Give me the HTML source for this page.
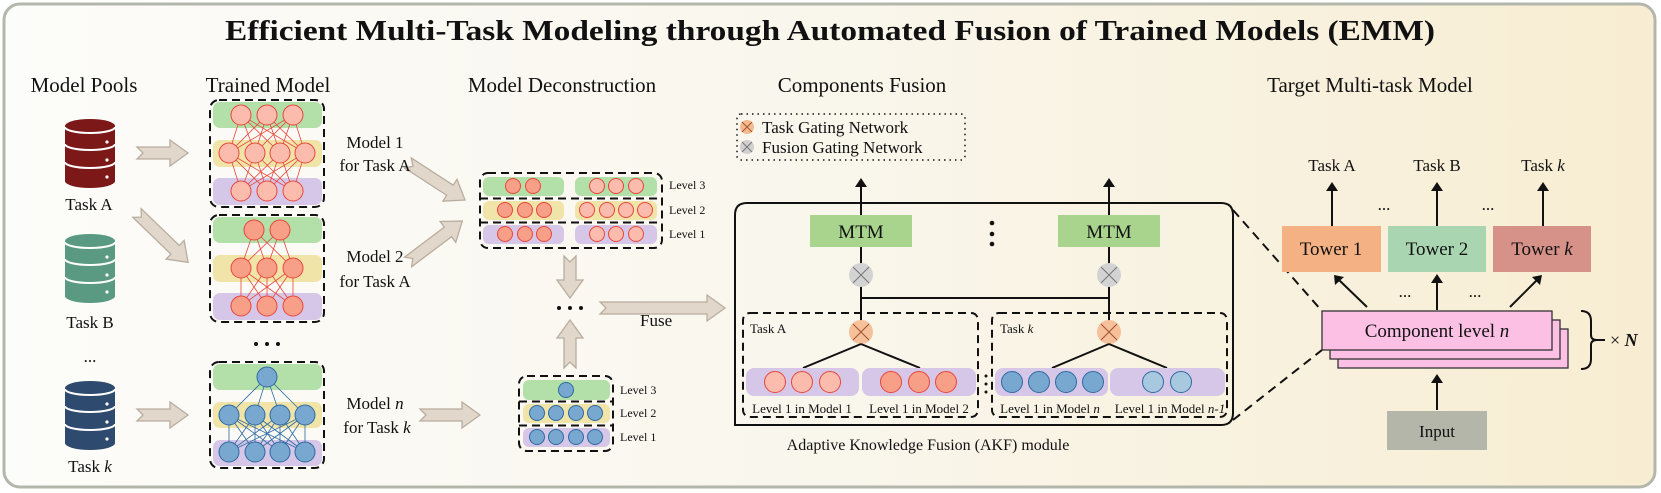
<!DOCTYPE html>
<html><head><meta charset="utf-8"><style>
html,body{margin:0;padding:0;background:#fff}
svg{display:block}
text{font-family:"Liberation Serif",serif;fill:#111}
</style></head><body>
<svg width="1661" height="493" viewBox="0 0 1661 493" xmlns="http://www.w3.org/2000/svg">
<defs>
<linearGradient id="bg" x1="0" x2="1" y1="0" y2="0">
<stop offset="0" stop-color="#fcfcfa"/><stop offset="0.5" stop-color="#f9f6ec"/><stop offset="1" stop-color="#f8edd2"/>
</linearGradient>
<path id="arr" d="M0,-7 L-0,-7 Z"/>
</defs>
<rect x="4" y="4" width="1651" height="483" rx="16" fill="url(#bg)" stroke="#b3b7ab" stroke-width="3"/>
<text x="225" y="40" font-size="28" font-weight="bold" textLength="1210" lengthAdjust="spacingAndGlyphs">Efficient Multi-Task Modeling through Automated Fusion of Trained Models (EMM)</text>

<g font-size="21" text-anchor="middle">
<text x="84" y="92">Model Pools</text>
<text x="268" y="92">Trained Model</text>
<text x="562" y="92">Model Deconstruction</text>
<text x="862" y="92">Components Fusion</text>
<text x="1370" y="92">Target Multi-task Model</text>
</g>

<!-- databases -->
<g id="dbs">
<g fill="#7c1818">
<path d="M65,126 a25,7 0 0 1 50,0 v55 a25,7 0 0 1 -50,0z"/>
</g>
<g fill="#5a9a82"><path d="M65,241 a25,7 0 0 1 50,0 v55 a25,7 0 0 1 -50,0z"/></g>
<g fill="#2e4a6e"><path d="M65,388 a25,7 0 0 1 50,0 v55 a25,7 0 0 1 -50,0z"/></g>
<g fill="none" stroke="#fff" stroke-width="2">
<path d="M65,127 a25,6 0 0 0 50,0 M65,144 a25,6 0 0 0 50,0 M65,162 a25,6 0 0 0 50,0"/>
<path d="M65,242 a25,6 0 0 0 50,0 M65,259 a25,6 0 0 0 50,0 M65,277 a25,6 0 0 0 50,0"/>
<path d="M65,389 a25,6 0 0 0 50,0 M65,406 a25,6 0 0 0 50,0 M65,424 a25,6 0 0 0 50,0"/>
</g>
<g fill="#fff">
<circle cx="107" cy="142" r="1.6"/><circle cx="107" cy="160" r="1.6"/><circle cx="107" cy="177" r="1.6"/>
<circle cx="107" cy="257" r="1.6"/><circle cx="107" cy="275" r="1.6"/><circle cx="107" cy="292" r="1.6"/>
<circle cx="107" cy="404" r="1.6"/><circle cx="107" cy="422" r="1.6"/><circle cx="107" cy="439" r="1.6"/>
</g>
</g>
<g font-size="17" text-anchor="middle">
<text x="89" y="210">Task A</text>
<text x="90" y="328">Task B</text>
<text x="90" y="362">...</text>
<text x="90" y="472">Task <tspan font-style="italic">k</tspan></text>
</g>

<!-- beige arrows -->
<g fill="#e2d7cb" stroke="#b9ad9f" stroke-width="1.3">
<path transform="translate(137,153)" d="M0,-6 L33,-6 L33,-13 L51,0 L33,13 L33,6 L0,6 L6,0Z"/>
<path transform="translate(137,213) rotate(44)" d="M0,-6 L53,-6 L53,-13 L71,0 L53,13 L53,6 L0,6 L6,0Z"/>
<path transform="translate(137,415)" d="M0,-6 L33,-6 L33,-13 L51,0 L33,13 L33,6 L0,6 L6,0Z"/>
<path transform="translate(408,163) rotate(33)" d="M0,-6 L50,-6 L50,-13 L68,0 L50,13 L50,6 L0,6 L6,0Z"/>
<path transform="translate(408,262) rotate(-37)" d="M0,-6 L50,-6 L50,-13 L68,0 L50,13 L50,6 L0,6 L6,0Z"/>
<path transform="translate(420,415)" d="M0,-6 L42,-6 L42,-13 L60,0 L42,13 L42,6 L0,6 L6,0Z"/>
<path transform="translate(570,256) rotate(90)" d="M0,-6 L24,-6 L24,-13 L42,0 L24,13 L24,6 L0,6 L6,0Z"/>
<path transform="translate(570,368) rotate(-90)" d="M0,-6 L30,-6 L30,-13 L48,0 L30,13 L30,6 L0,6 L6,0Z"/>
<path transform="translate(600,308)" d="M0,-6 L107,-6 L107,-13 L125,0 L107,13 L107,6 L0,6 L6,0Z" transform-origin="0 0"/>
</g>
<g fill="#111"><circle cx="559" cy="308" r="2"/><circle cx="570" cy="308" r="2"/><circle cx="581" cy="308" r="2"/></g>
<text x="640" y="326" font-size="17">Fuse</text>

<!-- trained models -->
<g>
<!-- bands -->
<g>
<rect x="213" y="102" width="109" height="26" rx="7" fill="#b3e0a8"/>
<rect x="213" y="140" width="109" height="27" rx="7" fill="#f0e4a8"/>
<rect x="213" y="178" width="109" height="27" rx="7" fill="#d6c6e8"/>
<rect x="213" y="217" width="109" height="26" rx="7" fill="#b3e0a8"/>
<rect x="213" y="255" width="109" height="27" rx="7" fill="#f0e4a8"/>
<rect x="213" y="293" width="109" height="27" rx="7" fill="#d6c6e8"/>
<rect x="213" y="364" width="109" height="26" rx="7" fill="#b3e0a8"/>
<rect x="213" y="402" width="109" height="26" rx="7" fill="#f0e4a8"/>
<rect x="213" y="440" width="109" height="26" rx="7" fill="#d6c6e8"/>
</g>
<g stroke="#e8463a" stroke-width="0.8">
<path d="M241,115L229,153M241,115L255,153M241,115L280,153M241,115L305,153M267,115L229,153M267,115L255,153M267,115L280,153M267,115L305,153M293,115L229,153M293,115L255,153M293,115L280,153M293,115L305,153"/>
<path d="M241,191L229,153M241,191L255,153M241,191L280,153M241,191L305,153M267,191L229,153M267,191L255,153M267,191L280,153M267,191L305,153M293,191L229,153M293,191L255,153M293,191L280,153M293,191L305,153"/>
<path d="M254,230L241,268M254,230L267,268M254,230L293,268M280,230L241,268M280,230L267,268M280,230L293,268"/>
<path d="M241,268L241,306M241,268L267,306M241,268L293,306M267,268L241,306M267,268L267,306M267,268L293,306M293,268L241,306M293,268L267,306M293,268L293,306"/>
</g>
<g stroke="#2e6aa0" stroke-width="0.8">
<path d="M267,377L229,415M267,377L255,415M267,377L280,415M267,377L305,415"/>
<path d="M229,415L229,452M229,415L255,452M229,415L280,452M229,415L305,452M255,415L229,452M255,415L255,452M255,415L280,452M255,415L305,452M280,415L229,452M280,415L255,452M280,415L280,452M280,415L305,452M305,415L229,452M305,415L255,452M305,415L280,452M305,415L305,452"/>
</g>
<g fill="#fbbcae" stroke="#e8463a" stroke-width="1">
<circle cx="241" cy="115" r="10"/><circle cx="267" cy="115" r="10"/><circle cx="293" cy="115" r="10"/>
<circle cx="229" cy="153" r="10"/><circle cx="255" cy="153" r="10"/><circle cx="280" cy="153" r="10"/><circle cx="305" cy="153" r="10"/>
<circle cx="241" cy="191" r="10"/><circle cx="267" cy="191" r="10"/><circle cx="293" cy="191" r="10"/>
</g>
<g fill="#f89f88" stroke="#e8463a" stroke-width="1">
<circle cx="254" cy="230" r="10"/><circle cx="280" cy="230" r="10"/>
<circle cx="241" cy="268" r="10"/><circle cx="267" cy="268" r="10"/><circle cx="293" cy="268" r="10"/>
<circle cx="241" cy="306" r="10"/><circle cx="267" cy="306" r="10"/><circle cx="293" cy="306" r="10"/>
</g>
<g fill="#78a8d0" stroke="#2e6aa0" stroke-width="1">
<circle cx="267" cy="377" r="10"/>
<circle cx="229" cy="415" r="10"/><circle cx="255" cy="415" r="10"/><circle cx="280" cy="415" r="10"/><circle cx="305" cy="415" r="10"/>
<circle cx="229" cy="452" r="10"/><circle cx="255" cy="452" r="10"/><circle cx="280" cy="452" r="10"/><circle cx="305" cy="452" r="10"/>
</g>
<g fill="none" stroke="#111" stroke-width="2" stroke-dasharray="8,5">
<rect x="210" y="100" width="114" height="107" rx="9"/>
<rect x="210" y="215" width="114" height="107" rx="9"/>
<rect x="210" y="362" width="114" height="106" rx="9"/>
</g>
<g fill="#111"><circle cx="256" cy="344" r="2"/><circle cx="267" cy="344" r="2"/><circle cx="278" cy="344" r="2"/></g>
</g>
<g font-size="17" text-anchor="middle">
<text x="375" y="148">Model 1</text><text x="375" y="171">for Task A</text>
<text x="375" y="262">Model 2</text><text x="375" y="287">for Task A</text>
<text x="375" y="409">Model <tspan font-style="italic">n</tspan></text><text x="377" y="433">for Task <tspan font-style="italic">k</tspan></text>
</g>

<!-- deconstruction top block -->
<g>
<rect x="483" y="177" width="81" height="19" rx="6" fill="#b3e0a8"/><rect x="575" y="177" width="82" height="19" rx="6" fill="#b3e0a8"/>
<rect x="483" y="201" width="81" height="19" rx="6" fill="#f0e4a8"/><rect x="575" y="201" width="82" height="19" rx="6" fill="#f0e4a8"/>
<rect x="483" y="225" width="81" height="19" rx="6" fill="#d6c6e8"/><rect x="575" y="225" width="82" height="19" rx="6" fill="#d6c6e8"/>
<g stroke="#e8463a" stroke-width="1">
<g fill="#f89f88"><circle cx="513" cy="186" r="7.5"/><circle cx="533" cy="186" r="7.5"/>
<circle cx="505" cy="210" r="7.5"/><circle cx="525" cy="210" r="7.5"/><circle cx="544" cy="210" r="7.5"/>
<circle cx="505" cy="234" r="7.5"/><circle cx="525" cy="234" r="7.5"/><circle cx="544" cy="234" r="7.5"/></g>
<g fill="#fbbcae"><circle cx="597" cy="186" r="7.5"/><circle cx="616" cy="186" r="7.5"/><circle cx="636" cy="186" r="7.5"/>
<circle cx="587" cy="210" r="7.5"/><circle cx="607" cy="210" r="7.5"/><circle cx="626" cy="210" r="7.5"/><circle cx="645" cy="210" r="7.5"/>
<circle cx="597" cy="234" r="7.5"/><circle cx="616" cy="234" r="7.5"/><circle cx="636" cy="234" r="7.5"/></g>
</g>
<g fill="none" stroke="#111" stroke-width="2" stroke-dasharray="8,5">
<rect x="480" y="173" width="182" height="75" rx="8"/>
<path d="M480,198.5H662M480,222.5H662"/>
</g>
<g font-size="12"><text x="669" y="189">Level 3</text><text x="669" y="214">Level 2</text><text x="669" y="238">Level 1</text></g>
</g>

<!-- deconstruction bottom block -->
<g>
<rect x="523" y="380" width="87" height="20" rx="6" fill="#b3e0a8"/>
<rect x="523" y="404" width="87" height="19" rx="6" fill="#f0e4a8"/>
<rect x="523" y="428" width="87" height="19" rx="6" fill="#d6c6e8"/>
<g fill="#78a8d0" stroke="#2e6aa0" stroke-width="1">
<circle cx="566" cy="390" r="7.5"/>
<circle cx="537" cy="413" r="7.5"/><circle cx="556" cy="413" r="7.5"/><circle cx="576" cy="413" r="7.5"/><circle cx="595" cy="413" r="7.5"/>
<circle cx="537" cy="437" r="7.5"/><circle cx="556" cy="437" r="7.5"/><circle cx="576" cy="437" r="7.5"/><circle cx="595" cy="437" r="7.5"/>
</g>
<g fill="none" stroke="#111" stroke-width="2" stroke-dasharray="8,5">
<rect x="519" y="376" width="94" height="75" rx="8"/>
<path d="M519,401.5H613M519,425.5H613"/>
</g>
<g font-size="12"><text x="620" y="394">Level 3</text><text x="620" y="417">Level 2</text><text x="620" y="441">Level 1</text></g>
</g>

<!-- legend -->
<rect x="737" y="114" width="228" height="46" rx="4" fill="none" stroke="#111" stroke-width="1.5" stroke-dasharray="1.5,4"/>
<circle cx="747" cy="127" r="7" fill="#f5b990"/><path d="M742,122L752,132M752,122L742,132" stroke="#a0522d" stroke-width="1"/>
<circle cx="747" cy="147" r="7" fill="#d0d0d0"/><path d="M742,142L752,152M752,142L742,152" stroke="#777" stroke-width="1"/>
<g font-size="17"><text x="762" y="133">Task Gating Network</text><text x="762" y="153">Fusion Gating Network</text></g>

<!-- AKF box -->
<path d="M735,425 V215 Q735,203 747,203 H1221 Q1233,203 1233,215 V413 Q1233,425 1221,425 Z" fill="none" stroke="#111" stroke-width="2"/>
<g stroke="#111" stroke-width="2" fill="none">
<path d="M861,185V332M1109,185V332M861,298H1109"/>
</g>
<path d="M861,178l-6,9h12z M1109,178l-6,9h12z" fill="#111"/>
<rect x="810" y="215" width="102" height="32" fill="#a8d48e"/>
<rect x="1058" y="215" width="102" height="32" fill="#a8d48e"/>
<g font-size="19" text-anchor="middle"><text x="861" y="238">MTM</text><text x="1109" y="238">MTM</text></g>
<g fill="#111"><circle cx="992" cy="223" r="2.3"/><circle cx="992" cy="234" r="2.3"/><circle cx="992" cy="244" r="2.3"/></g>
<g>
<circle cx="861" cy="275" r="12" fill="#d3d3d3"/><path d="M853,267L869,283M869,267L853,283" stroke="#777"/>
<circle cx="1109" cy="275" r="12" fill="#d3d3d3"/><path d="M1101,267L1117,283M1117,267L1101,283" stroke="#777"/>
<circle cx="861" cy="332" r="12" fill="#f5c09a"/><path d="M853,324L869,340M869,324L853,340" stroke="#a0522d"/>
<circle cx="1109" cy="332" r="12" fill="#f5c09a"/><path d="M1101,324L1117,340M1117,324L1101,340" stroke="#a0522d"/>
</g>
<g stroke="#111" stroke-width="2"><path d="M861,344L803,368M861,344L920,368M1109,344L1052,368M1109,344L1167,368"/></g>
<rect x="746" y="368" width="113" height="28" rx="8" fill="#d6c6e8"/>
<rect x="862" y="368" width="114" height="28" rx="8" fill="#d6c6e8"/>
<rect x="995" y="368" width="113" height="28" rx="8" fill="#d6c6e8"/>
<rect x="1110" y="368" width="115" height="28" rx="8" fill="#d6c6e8"/>
<g stroke-width="1">
<g fill="#fbbcae" stroke="#e8463a"><circle cx="775" cy="382" r="10.5"/><circle cx="802" cy="382" r="10.5"/><circle cx="830" cy="382" r="10.5"/></g>
<g fill="#f89f88" stroke="#e8463a"><circle cx="891" cy="382" r="10.5"/><circle cx="919" cy="382" r="10.5"/><circle cx="946" cy="382" r="10.5"/></g>
<g fill="#78a8d0" stroke="#2e6aa0"><circle cx="1012" cy="382" r="10.5"/><circle cx="1039" cy="382" r="10.5"/><circle cx="1066" cy="382" r="10.5"/><circle cx="1093" cy="382" r="10.5"/></g>
<g fill="#a8c8e0" stroke="#2e6aa0"><circle cx="1153" cy="382" r="10.5"/><circle cx="1181" cy="382" r="10.5"/></g>
</g>
<g fill="#111"><circle cx="986" cy="376" r="1.5"/><circle cx="986" cy="384" r="1.5"/><circle cx="986" cy="392" r="1.5"/></g>
<g fill="none" stroke="#111" stroke-width="2" stroke-dasharray="8,5">
<rect x="743" y="313" width="235" height="104" rx="7"/>
<rect x="992" y="313" width="235" height="104" rx="7"/>
</g>
<g font-size="13">
<text x="750" y="333">Task A</text><text x="1000" y="333">Task <tspan font-style="italic">k</tspan></text>
<text x="802" y="413" text-anchor="middle">Level 1 in Model 1</text>
<text x="919" y="413" text-anchor="middle">Level 1 in Model 2</text>
<text x="1050" y="413" text-anchor="middle">Level 1 in Model <tspan font-style="italic">n</tspan></text>
<text x="1170" y="413" text-anchor="middle">Level 1 in Model <tspan font-style="italic">n-1</tspan></text>
</g>
<text x="928" y="450" font-size="16" text-anchor="middle">Adaptive Knowledge Fusion (AKF) module</text>

<!-- zoom lines -->
<g stroke="#111" stroke-width="2" stroke-dasharray="9,6"><path d="M1233,210L1322,311M1233,420L1322,350"/></g>

<!-- target -->
<g font-size="17" text-anchor="middle">
<text x="1332" y="171">Task A</text><text x="1437" y="171">Task B</text><text x="1543" y="171">Task <tspan font-style="italic">k</tspan></text>
</g>
<g stroke="#111" stroke-width="2"><path d="M1332,226V190M1437,226V190M1543,226V190"/>
<path d="M1367,307L1339,280M1437,310V282M1510,307L1537,280M1437,410V382"/></g>
<g fill="#111"><path d="M1332,182l-6,9h12z M1437,182l-6,9h12z M1543,182l-6,9h12z M1437,274l-6,9h12z M1437,374l-6,9h12z"/>
<path d="M1334,275l1,10l9,-8z"/><path d="M1542,275l-10,2l8,8z"/></g>
<g font-size="17" text-anchor="middle"><text x="1384" y="210">...</text><text x="1488" y="210">...</text><text x="1405" y="297">...</text><text x="1475" y="297">...</text></g>
<rect x="1282" y="226" width="99" height="46" fill="#f4b183"/>
<rect x="1388" y="226" width="98" height="46" fill="#a9d5b0"/>
<rect x="1493" y="226" width="98" height="46" fill="#d69188"/>
<g font-size="19" text-anchor="middle"><text x="1331" y="255">Tower 1</text><text x="1437" y="255">Tower 2</text><text x="1542" y="255">Tower <tspan font-style="italic">k</tspan></text></g>
<g fill="#fcc0e4" stroke="#333" stroke-width="1.3">
<rect x="1338" y="329" width="230" height="39"/>
<rect x="1330" y="320" width="230" height="39"/>
<rect x="1322" y="311" width="230" height="39"/>
</g>
<text x="1437" y="337" font-size="19" text-anchor="middle">Component level <tspan font-style="italic">n</tspan></text>
<path d="M1581,311 q10,0 10,10 v14 q0,5 6,5 q-6,0 -6,5 v14 q0,10 -10,10 M1597,340h8" fill="none" stroke="#111" stroke-width="2"/>
<text x="1610" y="346" font-size="18">× <tspan font-style="italic" font-weight="bold">N</tspan></text>
<rect x="1387" y="411" width="100" height="39" fill="#b3b6a9"/>
<text x="1437" y="437" font-size="17" text-anchor="middle">Input</text>
</svg>
</body></html>
